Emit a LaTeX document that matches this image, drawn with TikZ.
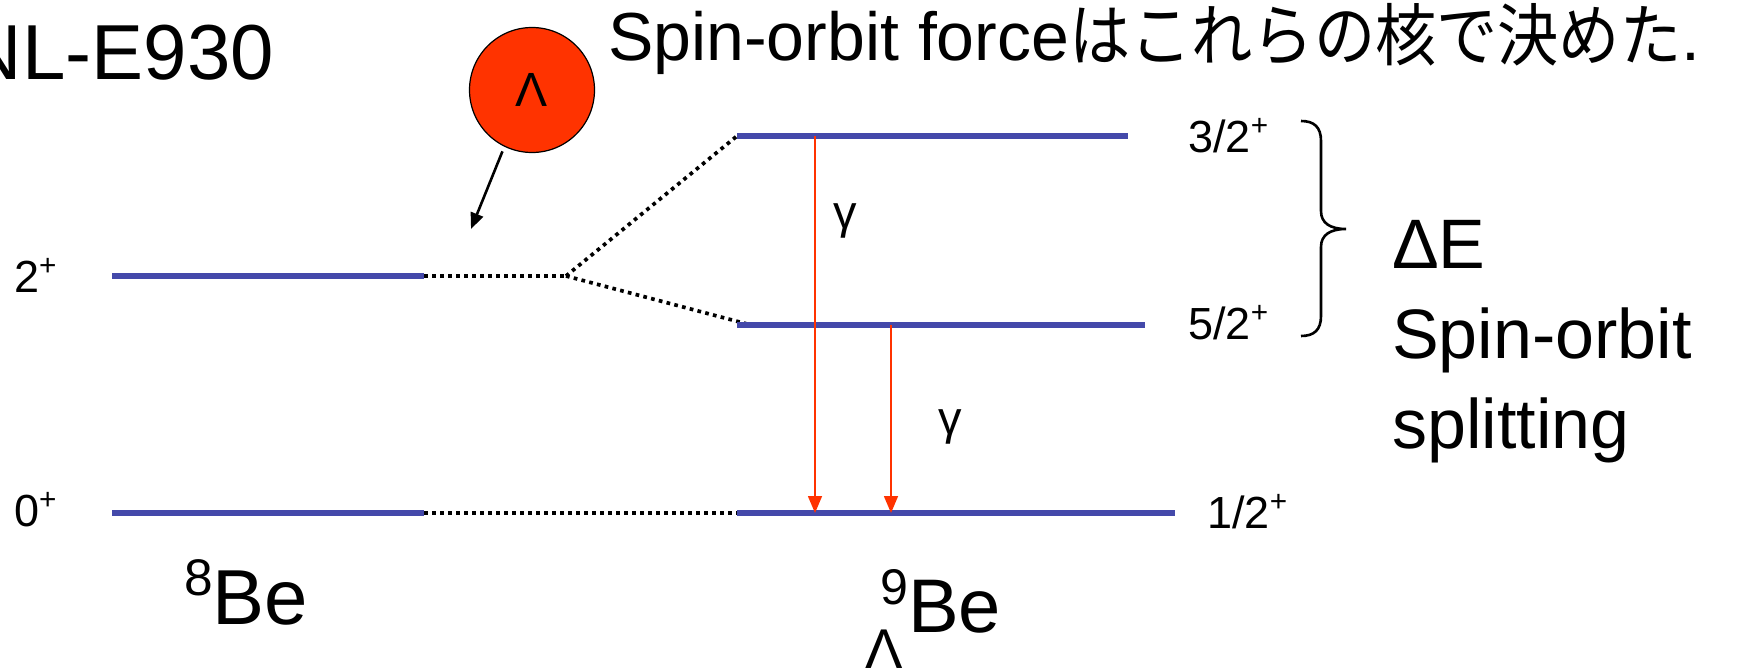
\documentclass[tikz,border=0pt]{standalone}
\usepackage{fontspec}
\setmainfont{Liberation Sans}
\newfontfamily\jpfont{Noto Sans CJK JP}
\usetikzlibrary{arrows.meta}
\definecolor{lvlblue}{RGB}{68,73,170}
\definecolor{lamred}{RGB}{255,51,0}
\newcommand{\fs}[1]{\fontsize{#1}{#1}\selectfont}
\newcommand{\sups}[1]{\raisebox{0.36em}{\scalebox{0.66}{#1}}}
\begin{document}
\begin{tikzpicture}[x=1pt,y=-1pt,
  level/.style={draw=lvlblue,line width=5.5pt},
  dotline/.style={draw=black,line width=3.7pt,dash pattern=on 3.7pt off 4.3pt},
  gam/.style={draw=lamred,line width=1.6pt,-{Triangle[length=17pt,width=14pt]}},
  txt/.style={inner sep=0pt,anchor=base west},
  spinlbl/.style={txt,font=\fs{45}},
  glbl/.style={inner sep=0pt,font=\fs{47}},
]
\useasboundingbox (0,0) rectangle (1751,669);
% titles
\node[inner sep=0pt,anchor=base east,font=\fs{78}] (exp) at (274,80) {NL-E930};
\node[txt,font=\fs{68}] (title) at (608,61) {Spin-orbit force{\jpfont\scalebox{0.9}[1]{はこれらの核で決めた}}.};
% Lambda particle
\node[circle,fill=lamred,draw=black,line width=1.2pt,minimum size=125pt,inner sep=0pt,font=\fs{48}] (lam) at (532,90) {Λ};
\coordinate (lamtip) at (471,229);
\draw[line width=2.6pt,-{Triangle[length=16pt,width=13pt]},shorten <=5pt] (lam.-116) -- (lamtip);
% level coordinates
\coordinate (a2L) at (112,276); \coordinate (a2R) at (424,276);
\coordinate (a0L) at (112,513); \coordinate (a0R) at (424,513);
\coordinate (j) at (566,276);
\coordinate (b3L) at (737,136); \coordinate (b3R) at (1128,136);
\coordinate (b5L) at (737,325); \coordinate (b5R) at (1145,325);
\coordinate (b5d) at (751,325);
\coordinate (b1L) at (737,513); \coordinate (b1R) at (1175,513);
% dotted connectors
\draw[dotline] (a2R) -- (j);
\draw[dotline] (j) -- (b3L);
\draw[dotline] (j) -- (b5d);
\draw[dotline] (a0R) -- (b1L);
% levels
\draw[level] (a2L) -- (a2R);
\draw[level] (a0L) -- (a0R);
\draw[level] (b3L) -- (b3R);
\draw[level] (b5L) -- (b5R);
\draw[level] (b1L) -- (b1R);
% gamma transitions
\coordinate (g1s) at (815,136); \coordinate (g1e) at (815,513);
\coordinate (g2s) at (891,325); \coordinate (g2e) at (891,513);
\draw[gam] (g1s) -- (g1e);
\draw[gam] (g2s) -- (g2e);
\node[glbl] (gl1) at (845,221) {γ};
\node[glbl] (gl2) at (950,427) {γ};
% spin labels
\node[spinlbl] (s2) at (14,292) {2\sups{+}};
\node[spinlbl] (s0) at (14,526) {0\sups{+}};
\node[spinlbl] (s32) at (1188,152) {3/2\sups{+}};
\node[spinlbl] (s52) at (1188,339) {5/2\sups{+}};
\node[spinlbl] (s12) at (1207,528) {1/2\sups{+}};
% brace
\draw[line width=2.6pt] (1301,121) .. controls (1314,121) and (1321,127) .. (1321,141) -- (1321,211) .. controls (1321,223) and (1330,229) .. (1346,229)
  .. controls (1330,229) and (1321,235) .. (1321,247) -- (1321,316) .. controls (1321,330) and (1314,336) .. (1301,336);
% right text
\node[txt,font=\fs{70}] (de) at (1392,268) {ΔE};
\node[txt,font=\fs{70}] (so) at (1392,358) {Spin-orbit};
\node[txt,font=\fs{70}] (sp) at (1392,448) {splitting};
% nuclei
\node[txt,font=\fs{78}] (be8) at (184,624) {\sups{8}Be};
\node[txt,font=\fs{76}] (be9) at (880,632) {\sups{9}Be};
\node[txt,font=\fs{56}] (sub) at (865,668) {Λ};
\end{tikzpicture}
\end{document}
